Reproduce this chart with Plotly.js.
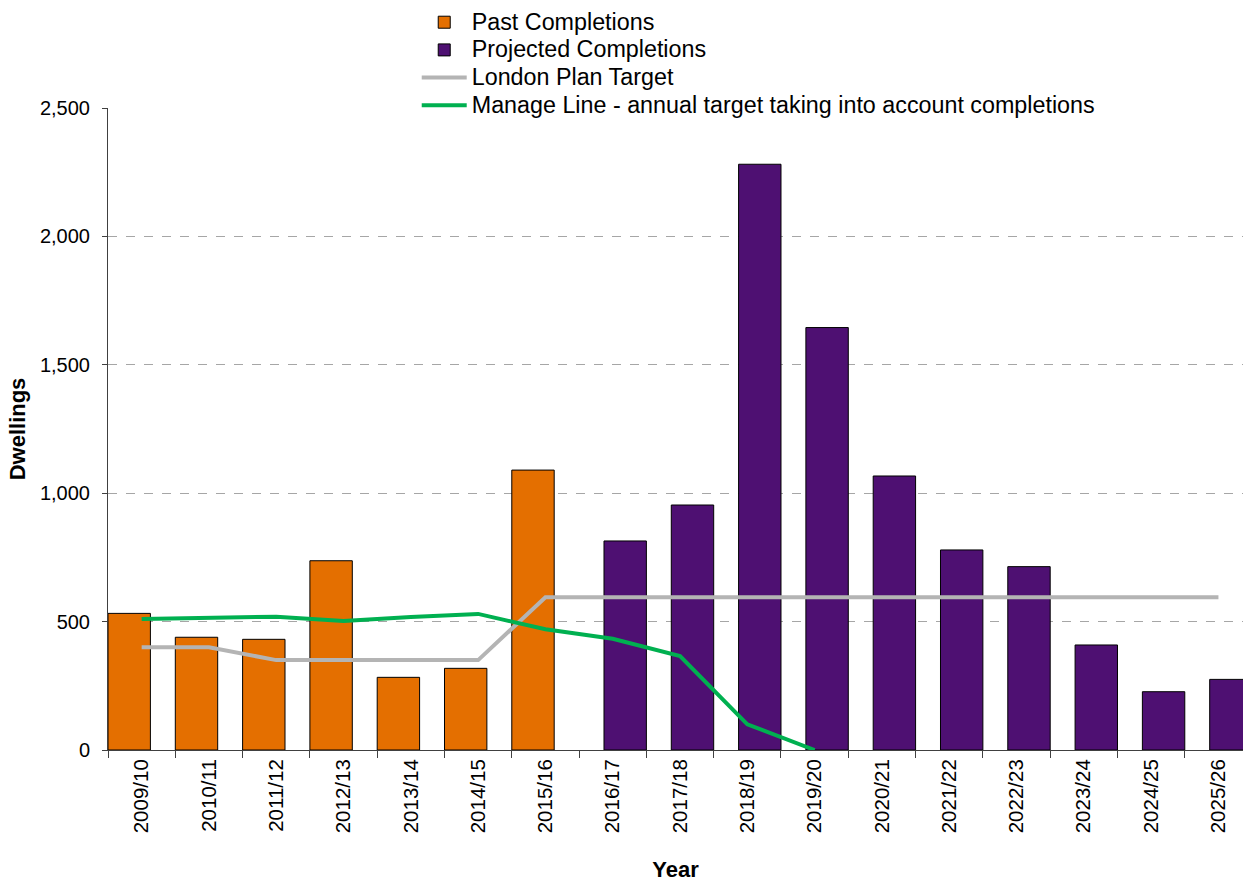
<!DOCTYPE html>
<html>
<head>
<meta charset="utf-8">
<script src="https://cdn.plot.ly/plotly-3.0.1.min.js"></script>
<style>html,body{margin:0;padding:0;background:#fff;}#chart{width:1243px;height:882px;}</style>
</head>
<body>
<div id="chart"></div>
<script>
var years = ["2009/10","2010/11","2011/12","2012/13","2013/14","2014/15","2015/16","2016/17","2017/18","2018/19","2019/20","2020/21","2021/22","2022/23","2023/24","2024/25","2025/26"];
var pastCompletions = [532, 439, 431, 737, 283, 318, 1090, null, null, null, null, null, null, null, null, null, null];
var projectedCompletions = [null, null, null, null, null, null, null, 814, 954, 2281, 1645, 1067, 779, 714, 409, 227, 275];
var londonPlanTarget = [400, 400, 350, 350, 350, 350, 595, 595, 595, 595, 595, 595, 595, 595, 595, 595, 595];
var manageLine = [510, 515, 519, 502, 518, 530, 470, 433, 366, 100, 0, null, null, null, null, null, null];
var seriesNames = ["Past Completions", "Projected Completions", "London Plan Target", "Manage Line - annual target taking into account completions"];
var yTicks = [0, 500, 1000, 1500, 2000, 2500];
var yTickText = ["0", "500", "1,000", "1,500", "2,000", "2,500"];

var font = "Liberation Sans, Arial, sans-serif";
var BW = 0.63;
var xRange = [-0.5, 16.365];
function legName(s) { return "<span style='font-size:23.3px'>" + s + "</span>"; }

var data = [
  {type: "bar", name: legName(seriesNames[0]), x: years, y: pastCompletions,
   offset: -0.5, width: BW,
   marker: {color: "#E46F00", line: {color: "#000000", width: 1}}},
  {type: "bar", name: legName(seriesNames[1]), x: years, y: projectedCompletions,
   offset: 0.5 - BW, width: BW,
   marker: {color: "#4E1072", line: {color: "#000000", width: 1}}},
  {type: "scatter", mode: "lines", name: legName(seriesNames[2]), x: years, y: londonPlanTarget,
   line: {color: "#B4B4B4", width: 4}},
  {type: "scatter", mode: "lines", name: legName(seriesNames[3]), x: years, y: manageLine,
   line: {color: "#00B050", width: 4}, connectgaps: false}
];

var layout = {
  width: 1243, height: 882,
  margin: {l: 108, r: 0, t: 108, b: 132, autoexpand: false},
  paper_bgcolor: "#ffffff", plot_bgcolor: "#ffffff",
  font: {family: font, size: 20, color: "#000000"},
  barmode: "overlay",
  showlegend: true,
  legend: {
    x: 0.272, y: 1.163, xanchor: "left", yanchor: "top",
    bgcolor: "#ffffff", font: {family: font, size: 19, color: "#000000"},
    itemwidth: 45, tracegroupgap: 0, traceorder: "normal"
  },
  xaxis: {
    type: "category", categoryorder: "array", categoryarray: years,
    range: xRange, tickson: "boundaries", ticks: "outside", ticklen: 7,
    tickcolor: "#404040", tickwidth: 1, tickangle: -90, dtick: 1,
    showline: true, linecolor: "#404040", linewidth: 1,
    showgrid: false, zeroline: false, automargin: false,
    tickfont: {family: font, size: 20.5, color: "#000000"},
    title: {text: "<b>Year</b>", font: {family: font, size: 22, color: "#000000"}, standoff: 38}
  },
  xaxis2: {
    overlaying: "x", anchor: "y", type: "linear", range: xRange,
    tick0: -0.5, dtick: 1, ticks: "inside", ticklen: 7, tickcolor: "#404040",
    showticklabels: false, showgrid: false, zeroline: false, showline: false
  },
  yaxis: {
    range: [0, 2500], tickvals: yTicks, ticktext: yTickText,
    ticks: "outside", ticklen: 5, tickcolor: "#404040", ticklabelstandoff: 8,
    showline: true, linecolor: "#404040", linewidth: 1,
    showgrid: true, gridcolor: "#A6A6A6", griddash: "dash", gridwidth: 1,
    zeroline: false, automargin: false,
    tickfont: {family: font, size: 20, color: "#000000"},
    title: {text: "<b>Dwellings</b>", font: {family: font, size: 22, color: "#000000"}, standoff: 8}
  },
  yaxis2: {
    overlaying: "y", anchor: "x", side: "left", range: [0, 2500],
    tickvals: yTicks, ticks: "inside", ticklen: 5, tickcolor: "#404040",
    showticklabels: false, showgrid: false, zeroline: false, showline: false
  }
};

Plotly.newPlot("chart", data, layout, {displayModeBar: false, staticPlot: true});
</script>
</body>
</html>
